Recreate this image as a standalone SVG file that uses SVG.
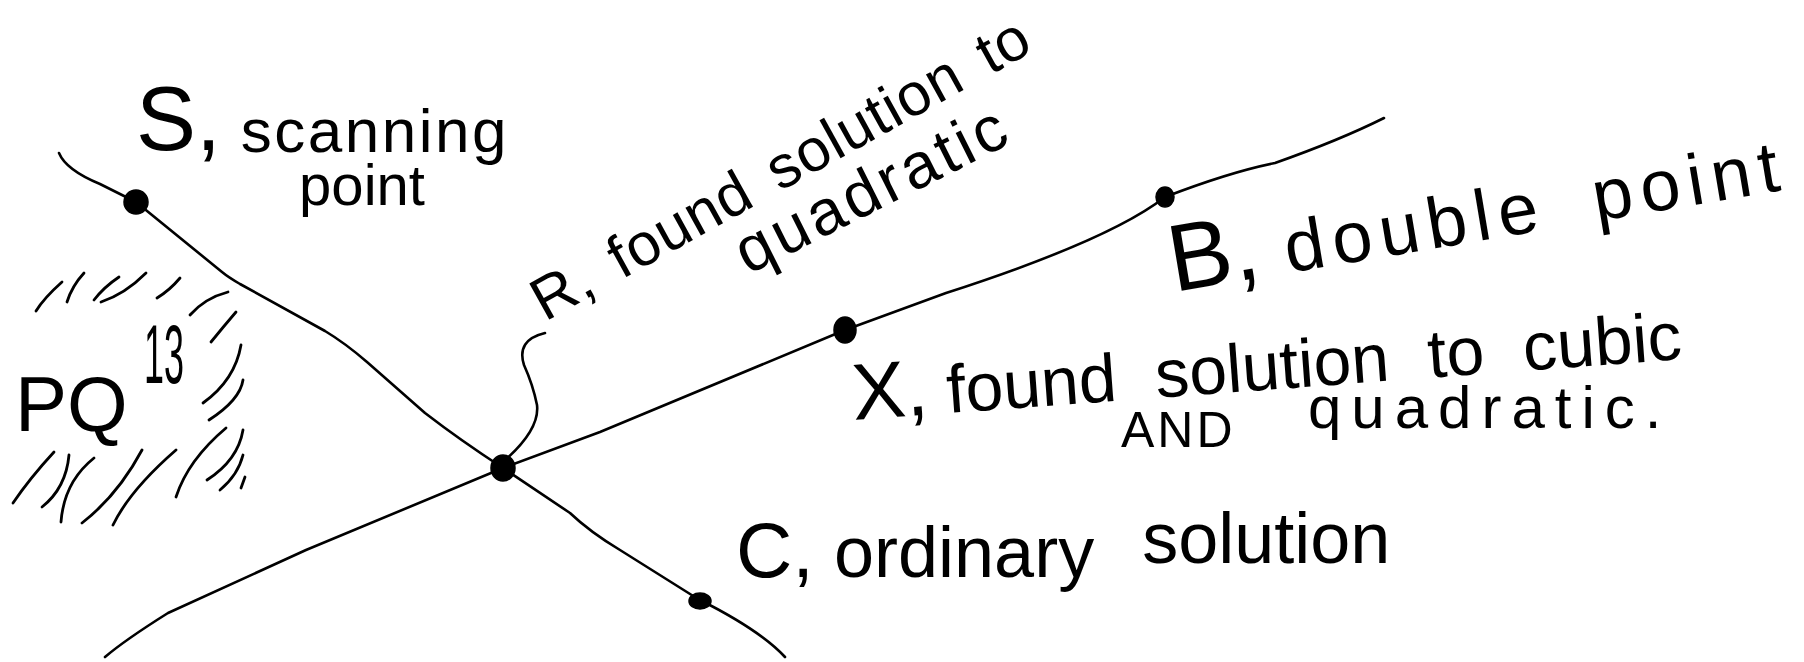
<svg xmlns="http://www.w3.org/2000/svg" width="1804" height="662" viewBox="0 0 1804 662">
<style>
.ln{fill:none;stroke:#000;stroke-width:2.6;stroke-linecap:round;stroke-linejoin:round}
.h{fill:none;stroke:#000;stroke-width:2.8;stroke-linecap:round}
.dot{fill:#000;stroke:#000;stroke-width:1.5}
.t{font-family:"Liberation Sans",Arial,sans-serif;fill:#000}
</style>
<rect width="1804" height="662" fill="#fff"/>
<g id="connectors">
<path class="ln" d="M59 153 Q66 170 100 184 L136 202 L222 272 Q228 277 240 284 L325 331 Q345 343 367 362 L425 413 Q460 440 503 468 L570 513 Q590 532 620 550 L698 599 Q760 630 785 657"/>
<path class="ln" d="M105 657 Q125 640 168 613 L306 550 L503 468 L600 432 L845 330 Q900 310 946 293 Q1110 240 1165 197 Q1230 172 1275 163 Q1340 140 1384 118"/>
<path class="ln" d="M503 462 Q540 430 537 405 Q533 385 524 365 Q516 340 545 333"/>
</g>
<g id="node-pq">
<path class="h" d="M36 311 Q44 298 62 282"/>
<path class="h" d="M67 302 Q72 286 84 273"/>
<path class="h" d="M94 300 Q104 287 119 277"/>
<path class="h" d="M101 302 Q125 294 146 273"/>
<path class="h" d="M157 298 Q170 290 180 278"/>
<path class="h" d="M190 315 Q205 298 228 292"/>
<path class="h" d="M211 342 Q224 326 236 312"/>
<path class="h" d="M203 403 Q235 380 241 345"/>
<path class="h" d="M209 420 Q240 400 243 380"/>
<path class="h" d="M13 503 Q30 478 54 452"/>
<path class="h" d="M42 507 Q66 488 69 455"/>
<path class="h" d="M61 522 Q64 482 94 458"/>
<path class="h" d="M82 523 Q118 495 142 450"/>
<path class="h" d="M113 525 Q130 490 176 450"/>
<path class="h" d="M176 497 Q188 460 226 428"/>
<path class="h" d="M207 480 Q238 460 243 430"/>
<path class="h" d="M220 490 Q238 475 243 455"/>
<path class="h" d="M241 488 L245 477"/>
<text class="t" x="15" y="431" font-size="78">PQ</text>
<text class="t" x="144" y="383" font-size="84" textLength="40" lengthAdjust="spacingAndGlyphs">13</text>
</g>
<g id="node-s">
<circle class="dot" cx="136" cy="202" r="12"/>
<text class="t"><tspan x="136" y="150" font-size="90">S,</tspan><tspan font-size="62" letter-spacing="2.5" dy="2"> scanning</tspan><tspan x="283" y="205" font-size="58"> point</tspan></text>
</g>
<g id="node-r">
<ellipse class="dot" cx="503" cy="468" rx="12" ry="13"/>
<g transform="translate(545,322) rotate(-29)"><text class="t" font-size="60" letter-spacing="1" word-spacing="8">R, found solution to</text></g>
<g transform="translate(748,275) rotate(-26.6)"><text class="t" font-size="64" letter-spacing="4">quadratic</text></g>
</g>
<g id="node-x">
<ellipse class="dot" cx="845" cy="330" rx="11" ry="13"/>
<g transform="translate(854,420) rotate(-4.2)"><text class="t" font-size="68"><tspan font-size="80">X,</tspan><tspan> found</tspan><tspan word-spacing="20"> solution to cubic</tspan></text></g>
<text class="t" font-size="60"><tspan x="1121" y="447" font-size="50" letter-spacing="3">AND </tspan><tspan x="1308" y="428" letter-spacing="10">quadratic.</tspan></text>
</g>
<g id="node-b">
<ellipse class="dot" cx="1165" cy="197" rx="9" ry="10"/>
<g transform="translate(1174,292) rotate(-9.5)"><text class="t"><tspan font-size="95">B, </tspan><tspan font-size="72" letter-spacing="8" word-spacing="20">double point</tspan></text></g>
</g>
<g id="node-c">
<ellipse class="dot" cx="700" cy="601" rx="11" ry="8"/>
<text class="t" font-size="72"><tspan x="736" y="577" font-size="78">C,</tspan><tspan> ordinary</tspan><tspan dx="28" dy="-14"> solution</tspan></text>
</g>
</svg>
